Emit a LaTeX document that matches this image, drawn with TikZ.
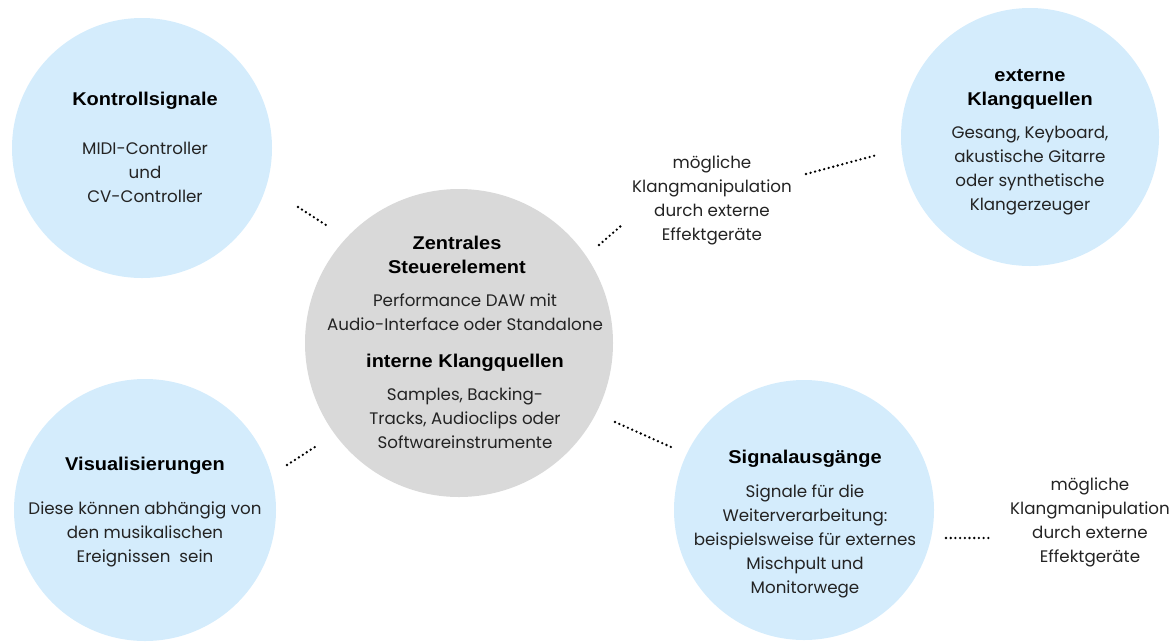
\documentclass[tikz,border=0pt]{standalone}
\usepackage{fontspec}
\setmainfont{Poppins}
\newfontfamily\headfont[FakeStretch=1.08]{Liberation Sans}
\definecolor{bubble}{RGB}{212,236,252}
\definecolor{core}{RGB}{217,217,217}
\definecolor{ink}{RGB}{35,35,35}
\tikzset{
  bubblebox/.style={circle,fill=bubble,draw=none,inner sep=0pt},
  corebox/.style={circle,fill=core,draw=none,inner sep=0pt},
  headtxt/.style={align=center,text=black,anchor=base,font=\headfont\bfseries\fontsize{18.5}{23.7}\selectfont,inner sep=0pt},
  bodytxt/.style={align=center,text=ink,anchor=base,font=\fontsize{16.7}{23.8}\selectfont,inner sep=0pt},
  dotline/.style={line width=2.6pt,line cap=round,dash pattern=on 0pt off 4.7pt,draw=black}
}
\begin{document}
\begin{tikzpicture}[x=1pt,y=-1pt]
\useasboundingbox (0,0) rectangle (1175,641);
\clip (0,0) rectangle (1175,641);
% circles
\node[bubblebox,minimum size=260pt] (ks) at (142,148) {};
\node[bubblebox,minimum size=262pt] (vis) at (145,510) {};
\node[corebox,minimum size=308pt] (zs) at (459,343) {};
\node[bubblebox,minimum size=258pt] (ext) at (1030,137) {};
\node[bubblebox,minimum size=260pt] (sig) at (804,510) {};
% (multi-line nodes: base anchor = baseline of the last line)
% Kontrollsignale
\node[headtxt] (ksh) at (145,105) {Kontrollsignale};
\node[bodytxt] (ksb) at (145,202) {MIDI-Controller\\und\\CV-Controller};
% externe Klangquellen
\node[headtxt] (exth) at (1030,105) {externe\\Klangquellen};
\node[bodytxt] (extb) at (1030,210) {Gesang, Keyboard,\\akustische Gitarre\\oder synthetische\\Klangerzeuger};
% mögliche (top)
\node[bodytxt] (m1) at (712,240) {mögliche\\Klangmanipulation\\durch externe\\Effektgeräte};
% Zentrales
\node[headtxt] (zsh) at (457,273) {Zentrales\\Steuerelement};
\node[bodytxt] (zsb) at (465,330) {Performance DAW mit\\Audio-Interface oder Standalone};
\node[headtxt] (zsh2) at (465,367) {interne Klangquellen};
\node[bodytxt] (zsb2) at (465,448) {Samples, Backing-\\Tracks, Audioclips oder\\Softwareinstrumente};
% Visualisierungen
\node[headtxt] (vish) at (145,470) {Visualisierungen};
\node[bodytxt] (visb) at (145,562) {Diese können abhängig von\\den musikalischen\\Ereignissen\ \ sein};
% Signalausgänge
\node[headtxt] (sigh) at (805,463) {Signalausgänge};
\node[bodytxt] (sigb) at (805,593) {Signale für die\\Weiterverarbeitung:\\beispielsweise für externes\\Mischpult und\\Monitorwege};
% mögliche (bottom)
\node[bodytxt] (m2) at (1090,562) {mögliche\\Klangmanipulation\\durch externe\\Effektgeräte};
% dotted connectors
\coordinate (a1) at (298,207); \coordinate (a2) at (329,227);
\coordinate (b1) at (599,245); \coordinate (b2) at (622,225);
\coordinate (c1) at (806,174); \coordinate (c2) at (877,155);
\coordinate (d1) at (615,422); \coordinate (d2) at (671,447);
\coordinate (e1) at (287,465); \coordinate (e2) at (318,445);
\coordinate (f1) at (946,538); \coordinate (f2) at (989,538);
\draw[dotline] (a1) -- (a2);
\draw[dotline] (b1) -- (b2);
\draw[dotline] (c1) -- (c2);
\draw[dotline] (d1) -- (d2);
\draw[dotline] (e1) -- (e2);
\draw[dotline] (f1) -- (f2);
\end{tikzpicture}
\end{document}
